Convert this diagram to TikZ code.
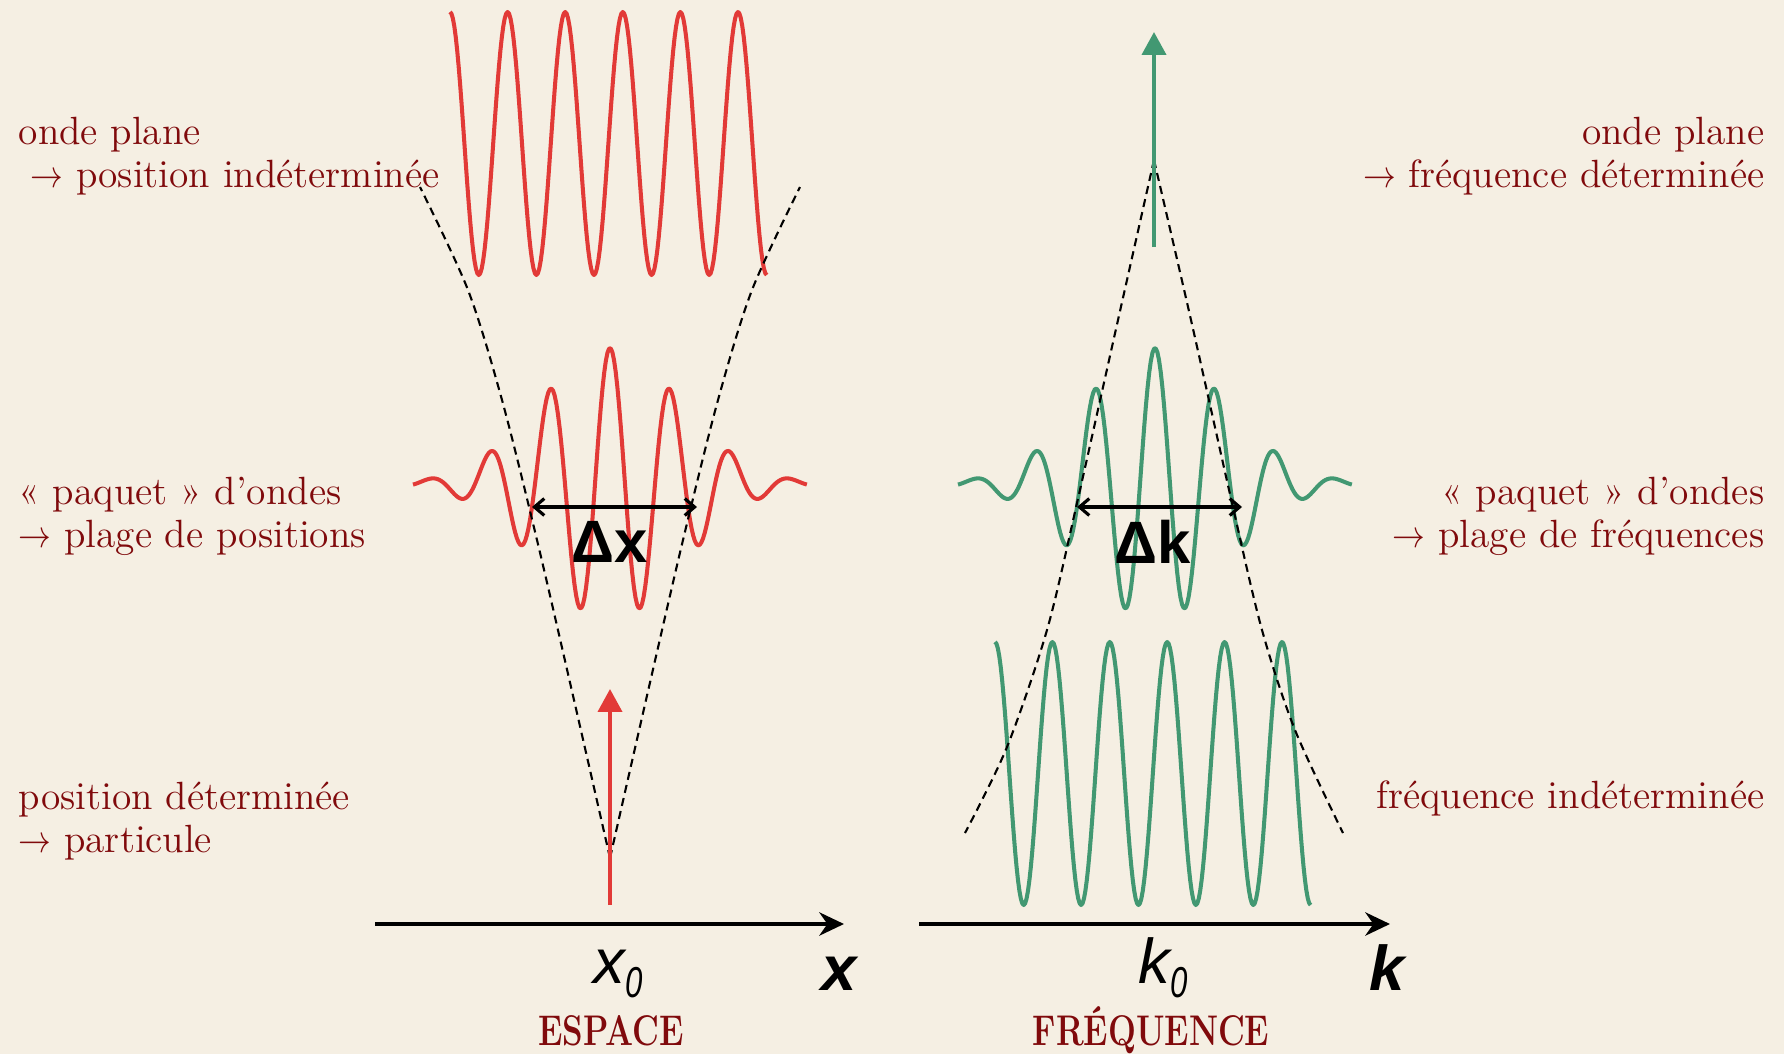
\documentclass[tikz,border=0pt]{standalone}
\usepackage{fontspec}
\usepackage{tikz}
\usetikzlibrary{arrows.meta}
\newfontfamily\axisfont{Liberation Sans}
\definecolor{inkred}{RGB}{128,10,12}
\definecolor{wavered}{RGB}{226,58,55}
\definecolor{wavegreen}{RGB}{66,152,114}
\definecolor{paper}{RGB}{245,239,227}
\newcommand\sidearrow{\scalebox{0.85}[1]{$\rightarrow$}}
\newcommand\lowzero{\raisebox{-4pt}{\scalebox{0.72}[1]{\fontsize{12.3}{12}\selectfont 0}}}

\begin{document}
\begin{tikzpicture}[
  x=0.01cm, y=-0.01cm,
  note/.style={font=\fontsize{11.2}{12}\selectfont, text=inkred, inner sep=0pt, align=left},
  heading/.style={font=\bfseries\fontsize{12.2}{12}\selectfont, text=inkred, inner sep=0pt},
  axislabel/.style={font=\axisfont\fontsize{18}{18}\selectfont, inner sep=0pt},
  delta/.style={font=\axisfont\bfseries\fontsize{17}{17}\selectfont, inner sep=0pt},
  axisline/.style={line width=1.3pt, -{Stealth[length=7pt, width=6.6pt]}},
  redwave/.style={wavered, line width=1.15pt, line join=round},
  greenwave/.style={wavegreen, line width=1.15pt, line join=round},
  redarrow/.style={wavered, line width=1.1pt, -{Triangle[length=6.5pt, width=6.8pt]}},
  greenarrow/.style={wavegreen, line width=1.1pt, -{Triangle[length=6.5pt, width=6.8pt]}},
  envelope/.style={black, line width=0.6pt, dash pattern=on 2.3pt off 1.5pt},
  spread/.style={line width=0.9pt, {Straight Barb[length=2.8pt, width=4.8pt]}-{Straight Barb[length=2.8pt, width=4.8pt]}}
]
\useasboundingbox (0,0) rectangle (1784,1054);
\fill[paper] (0,0) rectangle (1784,1054);

% coordinates
\coordinate (xorig) at (375,924);
\coordinate (xend)  at (844,924);
\coordinate (korig) at (919,924);
\coordinate (kend)  at (1390,924);
\coordinate (xfoot) at (610,905);
\coordinate (xtip)  at (610,689);
\coordinate (kfoot) at (1154,247);
\coordinate (ktip)  at (1154,32);
\coordinate (dxl) at (532,507);
\coordinate (dxr) at (697,507);
\coordinate (dkl) at (1077,507);
\coordinate (dkr) at (1242,507);

% espace (left)
\draw[redwave] plot[domain=0:11, samples=221] ({450+28.8*\x}, {143.5-131.5*cos(180*\x)});
\draw[redwave] plot[domain=-1.97:1.97, samples=240] ({610+100*\x}, {484-136*exp(-\x*\x)*cos(600*\x)});
\draw[envelope] plot[smooth] coordinates {(610,858) (574,700) (537,540) (502,400) (468,290) (420,187)};
\draw[envelope] plot[smooth] coordinates {(610,858) (646,700) (683,540) (718,400) (752,290) (800,187)};
\draw[redarrow] (xfoot) -- (xtip);

% frequence (right)
\draw[greenwave] plot[domain=0:11, samples=221] ({995+28.7*\x}, {773.5-131.5*cos(180*\x)});
\draw[greenwave] plot[domain=-1.97:1.97, samples=240] ({1155+100*\x}, {484-136*exp(-\x*\x)*cos(600*\x)});
\draw[envelope] plot[smooth] coordinates {(1154,160) (1118,320) (1077,503) (1047,630) (1007,747) (965,833)};
\draw[envelope] plot[smooth] coordinates {(1154,160) (1191,320) (1232,503) (1262,630) (1295,730) (1343,833)};
\draw[greenarrow] (kfoot) -- (ktip);

% axes and widths
\draw[axisline] (xorig) -- (xend);
\draw[axisline] (korig) -- (kend);
\draw[spread] (dxl) -- (dxr);
\draw[spread] (dkl) -- (dkr);
\node[delta] (dxlab) at (610,542) {Δx};
\node[delta] (dklab) at (1153,542) {Δk};

% side texts
\node[note, anchor=base west] (lplane) at (18,187) {onde plane\\\hspace*{0.3em}\sidearrow{} position indéterminée};
\node[note, anchor=base west] (lpacket) at (18,547) {« paquet » d’ondes\\\sidearrow{} plage de positions};
\node[note, anchor=base west] (lpart) at (18,852) {position déterminée\\\sidearrow{} particule};
\node[note, align=right, anchor=base east] (rplane) at (1765,187) {onde plane\\\sidearrow{} fréquence déterminée};
\node[note, align=right, anchor=base east] (rpacket) at (1765,547) {« paquet » d’ondes\\\sidearrow{} plage de fréquences};
\node[note, align=right, anchor=base east] (rind) at (1765,808) {fréquence indéterminée};

% bottom labels
\node[axislabel, anchor=base west] (xzero) at (593,983) {\itshape x\lowzero};
\node[axislabel, anchor=base] (xname) at (839,990) {\bfseries\itshape x};
\node[axislabel, anchor=base west] (kzero) at (1138,983) {\itshape k\lowzero};
\node[axislabel, anchor=base] (kname) at (1387,990) {\bfseries\itshape k};
\node[heading, anchor=base] (espace) at (611,1045) {\scalebox{0.77}[1]{ESPACE}};
\node[heading, anchor=base] (freq) at (1151,1045) {\scalebox{0.77}[1]{FRÉQUENCE}};
\end{tikzpicture}
\end{document}
